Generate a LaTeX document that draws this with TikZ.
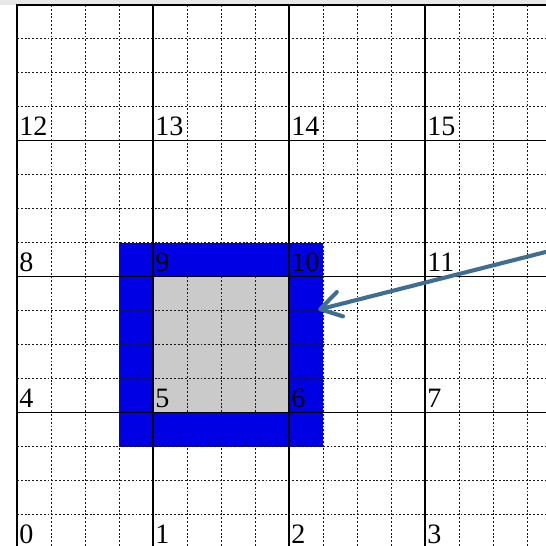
\documentclass[tikz,border=0pt]{standalone}
\usepackage{fontspec}
\setmainfont{Liberation Serif}
\usetikzlibrary{arrows.meta}
\definecolor{sqblue}{RGB}{0,0,228}
\definecolor{sqgray}{RGB}{202,202,202}
\definecolor{arrowblue}{RGB}{62,110,146}
\definecolor{topband}{RGB}{232,232,232}
\tikzset{
  minorline/.style={black!90, line width=0.7pt, dash pattern=on 1.6pt off 1.6pt},
  majorline/.style={black, line width=1.2pt},
  borderline/.style={black, line width=1.7pt},
  cellnum/.style={anchor=base west, inner sep=0pt, font=\fontsize{23.5}{23.5}\selectfont},
  pointer/.style={arrowblue, line width=3.4pt, -{Straight Barb[length=17pt, width=21pt, round]}},
}
\begin{document}
\begin{tikzpicture}
\useasboundingbox (-0.5,0.08) rectangle (15.56,16.14);
\fill[white] (-0.5,0.08) rectangle (15.56,16.14);
\fill[topband] (-0.5,16) rectangle (15.56,16.14);
\fill[sqblue] (3,3) rectangle (9,9);
\fill[sqgray] (4,4) rectangle (8,8);
\foreach \u in {1,...,15} {\draw[minorline] (\u,0.08) -- (\u,16);}
\foreach \v in {1,...,15} {\draw[minorline] (0,\v) -- (15.56,\v);}
\foreach \u in {4,8,12} {\draw[majorline] (\u,0.08) -- (\u,16);}
\foreach \v in {4,8,12} {\draw[majorline] (0,\v) -- (15.56,\v);}
\draw[borderline] (0,0.08) -- (0,16) -- (15.56,16);
\foreach \i in {0,...,15} {
  \pgfmathsetmacro{\lx}{4*mod(\i,4)+0.06}
  \pgfmathsetmacro{\ly}{4*int(\i/4)+0.15}
  \node[cellnum] (n\i) at (\lx,\ly) {\i};
}
\coordinate (arrowstart) at (15.6,8.74);
\coordinate (arrowtip) at (8.86,7.03);
\draw[pointer] (arrowstart) -- (arrowtip);
\end{tikzpicture}
\end{document}
